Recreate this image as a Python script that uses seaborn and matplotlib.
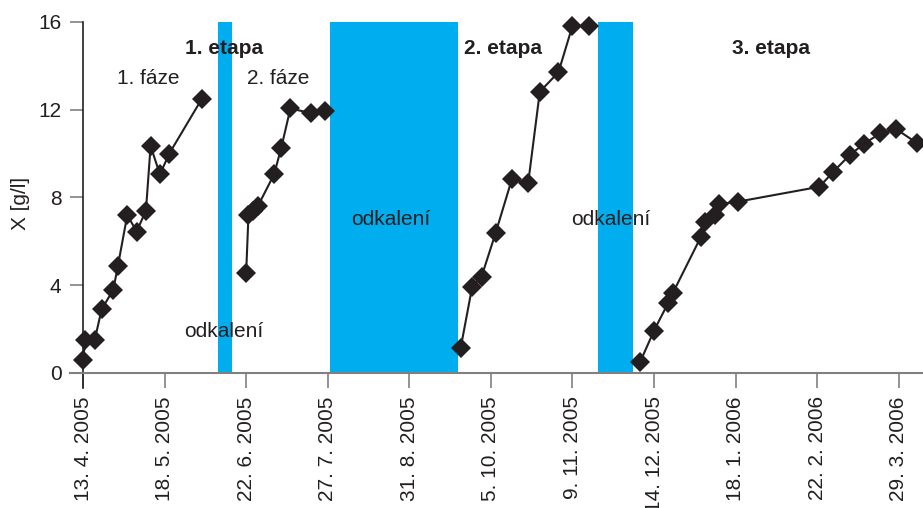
import matplotlib
matplotlib.use("Agg")
import matplotlib.pyplot as plt
import matplotlib.dates as mdates
import pandas as pd
import seaborn as sns

# Biomass concentration X [g/l] over the cultivation runs
faze1_dates = ["2005-04-13", "2005-04-14", "2005-04-18", "2005-04-21", "2005-04-26",
               "2005-04-28", "2005-05-02", "2005-05-06", "2005-05-10", "2005-05-12",
               "2005-05-16", "2005-05-20", "2005-06-03"]
faze1_x = [0.6, 1.5, 1.5, 2.9, 3.8, 4.9, 7.2, 6.45, 7.4, 10.35, 9.05, 10.0, 12.5]

faze2_dates = ["2005-06-22", "2005-06-23", "2005-06-25", "2005-06-27", "2005-07-04",
               "2005-07-07", "2005-07-11", "2005-07-20", "2005-07-26"]
faze2_x = [4.57, 7.2, 7.4, 7.6, 9.06, 10.24, 12.06, 11.84, 11.96]

etapa2_dates = ["2005-09-22", "2005-09-27", "2005-10-01", "2005-10-07", "2005-10-14",
                "2005-10-21", "2005-10-26", "2005-11-03", "2005-11-09", "2005-11-16"]
etapa2_x = [1.12, 3.94, 4.39, 6.37, 8.83, 8.65, 12.82, 13.71, 15.82, 15.82]

etapa3_dates = ["2005-12-08", "2005-12-14", "2005-12-20", "2005-12-22", "2006-01-03",
                "2006-01-05", "2006-01-09", "2006-01-11", "2006-01-19", "2006-02-23",
                "2006-03-01", "2006-03-08", "2006-03-14", "2006-03-21", "2006-03-28",
                "2006-04-06"]
etapa3_x = [0.49, 1.93, 3.18, 3.63, 6.18, 6.87, 7.2, 7.7, 7.81, 8.49,
            9.18, 9.94, 10.44, 10.92, 11.11, 10.47]

# Desludging periods (odkalení)
odkaleni_start = ["2005-06-10", "2005-07-28", "2005-11-20"]
odkaleni_end = ["2005-06-16", "2005-09-21", "2005-12-05"]

# Axis ticks
tick_dates = ["2005-04-13", "2005-05-18", "2005-06-22", "2005-07-27", "2005-08-31",
              "2005-10-05", "2005-11-09", "2005-12-14", "2006-01-18", "2006-02-22",
              "2006-03-29"]
tick_labels = ["13. 4. 2005", "18. 5. 2005", "22. 6. 2005", "27. 7. 2005", "31. 8. 2005",
               "5. 10. 2005", "9. 11. 2005", "14. 12. 2005", "18. 1. 2006", "22. 2. 2006",
               "29. 3. 2006"]
y_ticks = [0, 4, 8, 12, 16]

# Annotations: (text, date, value, bold)
notes = [
    ("1. etapa", "2005-06-12 10:00", 14.52, True),
    ("1. fáze", "2005-05-10 22:00", 13.16, False),
    ("2. fáze", "2005-07-05 14:00", 13.16, False),
    ("odkalení", "2005-06-12 10:00", 1.66, False),
    ("odkalení", "2005-08-23 00:00", 6.75, False),
    ("2. etapa", "2005-10-10 00:00", 14.52, True),
    ("odkalení", "2005-11-25 14:00", 6.75, False),
    ("3. etapa", "2006-02-02 00:00", 14.52, True),
]

sns.set_style("white")
plt.rcParams["font.family"] = ["Liberation Sans", "DejaVu Sans"]

INK = "#231F20"
BLUE = "#00AEEF"
GRAY = "#808080"

fig = plt.figure(figsize=(9.23, 5.08), dpi=100)
ax = fig.add_axes([70 / 923, (508 - 373) / 508, 853 / 923, 351 / 508])

for s, e in zip(odkaleni_start, odkaleni_end):
    ax.axvspan(pd.Timestamp(s), pd.Timestamp(e), ymin=0, ymax=1,
               color=BLUE, lw=0, zorder=1)

series = [(faze1_dates, faze1_x), (faze2_dates, faze2_x),
          (etapa2_dates, etapa2_x), (etapa3_dates, etapa3_x)]
for d, v in series:
    df = pd.DataFrame({"datum": pd.to_datetime(d), "X": v})
    sns.lineplot(data=df, x="datum", y="X", ax=ax, estimator=None, sort=False,
                 color=INK, linewidth=1.5, marker="D", markersize=10.5,
                 markeredgewidth=0, markerfacecolor=INK, clip_on=False, zorder=3)

ax.set_xlim(pd.Timestamp("2005-04-07 10:00"), pd.Timestamp("2006-04-08 10:00"))
ax.set_ylim(0, 16)

# y axis line sits at the first sampling date
for side in ("top", "right"):
    ax.spines[side].set_visible(False)
ax.spines["left"].set_position(("data", mdates.date2num(pd.Timestamp("2005-04-13"))))
ax.spines["left"].set_color(INK)
ax.spines["left"].set_linewidth(1.2)
ax.spines["left"].set_bounds(-0.68, 16)
ax.spines["bottom"].set_color(GRAY)
ax.spines["bottom"].set_linewidth(1.5)

ax.set_xticks([pd.Timestamp(t) for t in tick_dates])
ax.set_xticklabels(tick_labels, rotation=90, fontsize=15, color=INK)
ax.set_yticks(y_ticks)
ax.set_yticklabels([str(t) for t in y_ticks], fontsize=15, color=INK)

ax.tick_params(axis="x", direction="out", length=10.8, width=1.2, color=GRAY, pad=6,
               bottom=True)
ax.tick_params(axis="y", direction="out", length=9.4, width=1.2, color=GRAY, pad=6,
               left=True)

ax.set_xlabel("")
ax.set_ylabel("")

for txt, d, v, bold in notes:
    ax.text(pd.Timestamp(d), v, txt, ha="center", va="baseline", fontsize=15,
            color=INK, fontweight="bold" if bold else "normal", zorder=4)

fig.text(21 / 923, (508 - 203) / 508, "X [g/l]", rotation=90, ha="center",
         va="center", fontsize=15, color=INK)

fig.savefig("out.png", dpi=100)
